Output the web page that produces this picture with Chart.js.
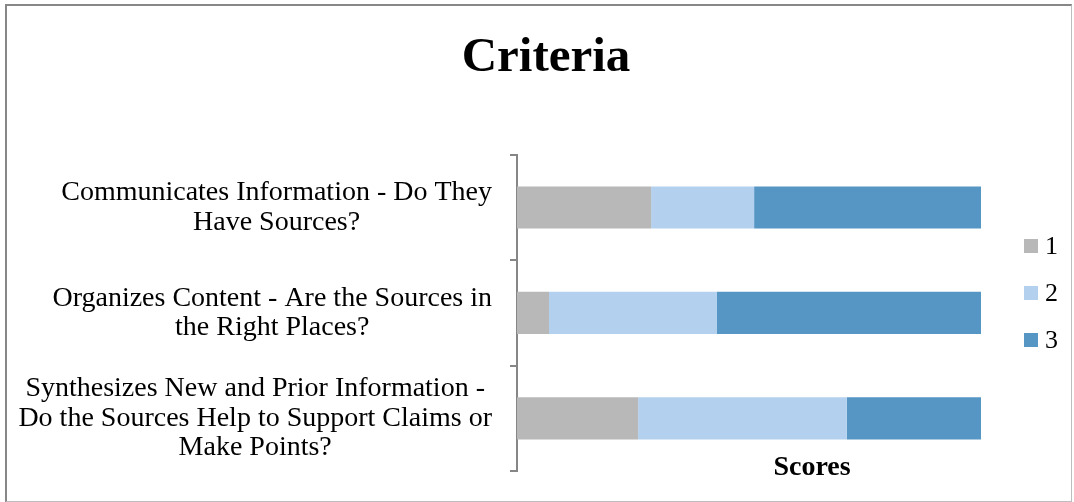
<!DOCTYPE html>
<html>
<head>
<meta charset="utf-8">
<script src="https://cdn.jsdelivr.net/npm/chart.js@4/dist/chart.umd.min.js"></script>
<style>
  body { margin: 0; background: #fff; }
  #wrap { position: relative; width: 1074px; height: 502px; }
  #frame {
    position: absolute; left: 5px; top: 4px; width: 1064px; height: 495px;
    border-left: 2px solid #878787; border-top: 2px solid #878787;
    border-right: 1px solid #bdbdbd; border-bottom: 1px solid #bdbdbd;
    pointer-events: none;
  }
</style>
</head>
<body>
<div id="wrap">
  <canvas id="chart" width="1074" height="502"></canvas>
  <div id="frame"></div>
</div>
<script>
// categories (top to bottom), each one split on lines like the original
const categories = [
  ["Communicates Information - Do They", "Have Sources?"],
  ["Organizes Content - Are the Sources in", "the Right Places?"],
  ["Synthesizes New and Prior Information -", "Do the Sources Help to Support Claims or", "Make Points?"]
];
const seriesNames = ["1", "2", "3"];
// share of each score, in %
const score1 = [28.9, 6.9, 26.1];
const score2 = [22.2, 36.2, 45.0];
const score3 = [48.9, 56.9, 28.9];
const colors = ["#b8b8b8", "#b3d1ee", "#5596c4"];

const FONT = "'Liberation Serif', 'Times New Roman', serif";

// draws the y labels (centred block, right edge at the axis), the axis title and the legend
const extras = {
  id: "extras",
  afterDraw(chart) {
    const ctx = chart.ctx;
    const y = chart.scales.y;
    const area = chart.chartArea;
    ctx.save();
    ctx.fillStyle = "#000";
    ctx.textBaseline = "middle";
    ctx.textAlign = "center";

    // category labels
    ctx.font = "28px " + FONT;
    const lineH = 29.5;
    categories.forEach((lines, i) => {
      const cy = y.getPixelForTick(i);
      const widest = Math.max(...lines.map(l => ctx.measureText(l).width));
      const cx = area.left - 25 - widest / 2;
      const y0 = cy - (lines.length - 1) * lineH / 2;
      lines.forEach((l, k) => ctx.fillText(l, cx, y0 + k * lineH));
    });

    // axis title
    ctx.font = "bold 28px " + FONT;
    ctx.fillText("Scores", 812, 468);

    // legend
    ctx.font = "26px " + FONT;
    ctx.textAlign = "left";
    chart.data.datasets.forEach((ds, i) => {
      const ly = 246 + i * 47;
      ctx.fillStyle = ds.backgroundColor;
      ctx.fillRect(1024, ly - 7, 14, 14);
      ctx.fillStyle = "#000";
      ctx.fillText(ds.label, 1045, ly + 1);
    });
    ctx.restore();
  }
};

new Chart(document.getElementById("chart"), {
  type: "bar",
  data: {
    labels: categories,
    datasets: [
      { label: seriesNames[0], data: score1, backgroundColor: colors[0] },
      { label: seriesNames[1], data: score2, backgroundColor: colors[1] },
      { label: seriesNames[2], data: score3, backgroundColor: colors[2] }
    ]
  },
  options: {
    indexAxis: "y",
    responsive: false,
    animation: false,
    devicePixelRatio: 1,
    categoryPercentage: 1,
    barPercentage: 0.4,
    layout: { padding: { left: 111, right: 93, top: 0, bottom: 31 } },
    plugins: {
      legend: { display: false },
      tooltip: { enabled: false },
      title: {
        display: true,
        text: "Criteria",
        color: "#000",
        font: { family: FONT, size: 49, weight: "bold" },
        padding: { top: 29, bottom: 67 }
      }
    },
    scales: {
      x: { stacked: true, min: 0, max: 100, display: false },
      y: {
        stacked: true,
        offset: true,
        afterFit: s => { s.width = 406; },
        ticks: { display: false },
        grid: {
          offset: true,
          drawOnChartArea: false,
          drawTicks: true,
          tickLength: 7,
          color: "#868686",
          lineWidth: 2
        },
        border: { display: true, color: "#868686", width: 2 }
      }
    }
  },
  plugins: [extras]
});
</script>
</body>
</html>
